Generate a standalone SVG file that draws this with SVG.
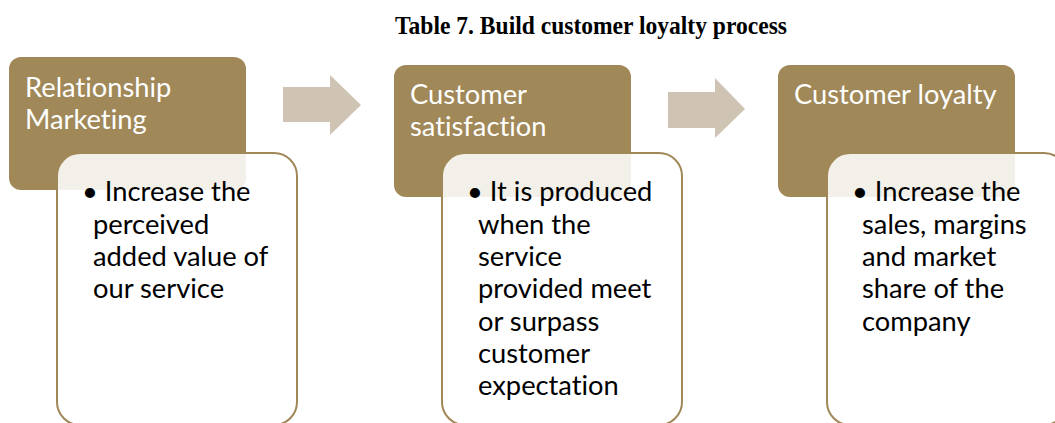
<svg xmlns="http://www.w3.org/2000/svg" width="1055" height="423" viewBox="0 0 1055 423">
<style>
.hdr{fill:#A08858}
.body{fill:#fff;fill-opacity:0.87;stroke:#A08858;stroke-width:2}
.arrow{fill:#CFC4B3}
.ht{font-family:Lato,"Open Sans",sans-serif;font-size:27.3px;fill:#fff;font-variant-ligatures:none}
.bt{font-family:Lato,"Open Sans",sans-serif;font-size:27.3px;fill:#000;font-variant-ligatures:none}
.title{font-family:"Liberation Serif","Times New Roman",serif;font-weight:bold;font-size:25px;fill:#000}
</style>
<rect width="1055" height="423" fill="#fff"/>
<text class="title" x="395" y="34" textLength="392" lengthAdjust="spacingAndGlyphs">Table 7. Build customer loyalty process</text>
<g id="connectors">
<polygon class="arrow" points="283,87 330,87 330,75 361,105 330,135 330,122 283,122"/>
<polygon class="arrow" points="668,92 715,92 715,78 745,109 715,138 715,128 668,128"/>
</g>
<g id="node1">
<rect class="hdr" x="9" y="57" width="237" height="133" rx="12"/>
<text class="ht" x="25" y="97">Relationship</text>
<text class="ht" x="25" y="129">Marketing</text>
<rect class="body" x="57" y="153" width="240" height="272" rx="23"/>
<text class="bt" x="82" y="201">• Increase the</text>
<text class="bt" x="93" y="234">perceived</text>
<text class="bt" x="93" y="266">added value of</text>
<text class="bt" x="93" y="298">our service</text>
</g>
<g id="node2">
<rect class="hdr" x="394" y="65" width="237" height="132" rx="12"/>
<text class="ht" x="410" y="104">Customer</text>
<text class="ht" x="410" y="136">satisfaction</text>
<rect class="body" x="442" y="153" width="240" height="272" rx="23"/>
<text class="bt" x="467" y="201">• It is produced</text>
<text class="bt" x="478" y="234">when the</text>
<text class="bt" x="478" y="266">service</text>
<text class="bt" x="478" y="298">provided meet</text>
<text class="bt" x="478" y="331">or surpass</text>
<text class="bt" x="478" y="363">customer</text>
<text class="bt" x="478" y="395">expectation</text>
</g>
<g id="node3">
<rect class="hdr" x="778" y="65" width="237" height="132" rx="12"/>
<text class="ht" x="794" y="104">Customer loyalty</text>
<rect class="body" x="827" y="153" width="240" height="272" rx="23"/>
<text class="bt" x="852" y="201">• Increase the</text>
<text class="bt" x="862" y="234">sales, margins</text>
<text class="bt" x="862" y="266">and market</text>
<text class="bt" x="862" y="298">share of the</text>
<text class="bt" x="862" y="331">company</text>
</g>
</svg>
